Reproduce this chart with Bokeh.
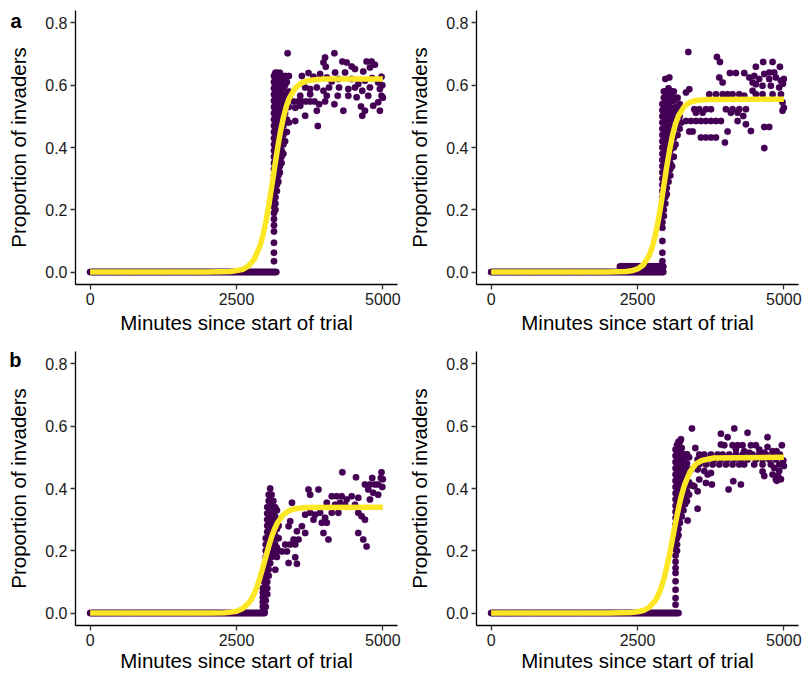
from bokeh.plotting import figure
from bokeh.models import FixedTicker, PrintfTickFormatter, Range1d, GridBox, LinearAxis
from bokeh.embed import file_html
from bokeh.resources import INLINE

FONT = "Liberation Sans"
PURPLE = "#440154"
YELLOW = "#FDE725"

X_TICKS = [0, 2500, 5000]
Y_TICKS = [0.0, 0.2, 0.4, 0.6, 0.8]
X_TITLE = "Minutes since start of trial"
Y_TITLE = "Proportion of invaders"
PANEL_LETTERS = ["a", "b"]

# ---------------- panel a, left ----------------
a1_base_end = 3190
a1_col = [
    (3140, [0.035, 0.062, 0.094, 0.13, 0.15, 0.17, 0.19, 0.21, 0.23, 0.25, 0.27, 0.29, 0.31, 0.33, 0.35, 0.37, 0.39, 0.41, 0.43, 0.45, 0.47, 0.49, 0.51, 0.53, 0.55, 0.57, 0.59, 0.61, 0.63]),
    (3165, [0.20, 0.22, 0.24, 0.26, 0.28, 0.30, 0.32, 0.34, 0.36, 0.38, 0.40, 0.42, 0.44, 0.46, 0.48, 0.50, 0.52, 0.54, 0.56, 0.58, 0.60, 0.62, 0.64]),
    (3190, [0.26, 0.28, 0.30, 0.32, 0.34, 0.36, 0.38, 0.40, 0.42, 0.44, 0.46, 0.48, 0.50, 0.52, 0.54, 0.56, 0.58, 0.60, 0.62, 0.64]),
    (3215, [0.29, 0.31, 0.33, 0.35, 0.37, 0.39, 0.41, 0.43, 0.45, 0.47, 0.49, 0.51, 0.53, 0.55, 0.57, 0.59, 0.61, 0.63]),
    (3240, [0.32, 0.34, 0.36, 0.38, 0.40, 0.42, 0.44, 0.46, 0.48, 0.50, 0.52, 0.54, 0.56, 0.58, 0.60, 0.62, 0.64]),
    (3270, [0.35, 0.37, 0.39, 0.41, 0.43, 0.45, 0.47, 0.49, 0.51, 0.53, 0.55, 0.57, 0.59, 0.61, 0.63]),
    (3300, [0.38, 0.41, 0.44, 0.47, 0.50, 0.53, 0.56, 0.59, 0.62]),
    (3330, [0.42, 0.45, 0.48, 0.51, 0.54, 0.57, 0.60, 0.63]),
    (3360, [0.45, 0.49, 0.53, 0.57, 0.61]),
    (3395, [0.48, 0.53, 0.58, 0.63]),
]
a1_pts = [
    (3373, 0.703), (4172, 0.703), (4013, 0.689), (3985, 0.673), (4025, 0.659), (4308, 0.676), (4382, 0.673),
    (4467, 0.660), (4524, 0.652), (4722, 0.676), (4807, 0.676), (4864, 0.666), (4779, 0.657), (4665, 0.644),
    (4184, 0.641), (4354, 0.641), (3617, 0.630), (3730, 0.639), (3815, 0.627), (3928, 0.636), (4042, 0.625),
    (4127, 0.612), (4240, 0.620), (4467, 0.620), (4580, 0.604), (4694, 0.614), (4818, 0.623), (4920, 0.609),
    (4977, 0.627), (3673, 0.593), (3758, 0.588), (3872, 0.593), (3985, 0.582), (4081, 0.593), (4252, 0.593),
    (4410, 0.588), (4524, 0.593), (4648, 0.582), (4779, 0.593), (4949, 0.588), (3588, 0.566), (3758, 0.571),
    (4042, 0.566), (4229, 0.566), (4410, 0.566), (4552, 0.561), (4750, 0.566), (4977, 0.566), (3475, 0.548),
    (3549, 0.548), (3617, 0.548), (3685, 0.548), (3758, 0.548), (3832, 0.548), (3911, 0.539), (4013, 0.548),
    (4172, 0.539), (3872, 0.518), (4325, 0.518), (4626, 0.532), (4694, 0.518), (4949, 0.518), (3673, 0.502),
    (4648, 0.502), (3503, 0.485), (3889, 0.469), (3503, 0.528), (3588, 0.534), (4920, 0.545), (4835, 0.534),
    (5000, 0.560), (4990, 0.600),
]
a1_curve_x = [0, 2000, 2400, 2600, 2700, 2800, 2900, 2950, 3000, 3050, 3100, 3150, 3200, 3250, 3300, 3350, 3400, 3500, 3600, 3700, 3800, 4000, 5000]
a1_curve_y = [0, 0, 0.002, 0.008, 0.019, 0.040, 0.083, 0.117, 0.160, 0.213, 0.273, 0.335, 0.396, 0.450, 0.495, 0.531, 0.558, 0.590, 0.606, 0.614, 0.617, 0.620, 0.620]

# ---------------- panel a, right ----------------
a2_base_end = 2950
a2_low_start, a2_low_end, a2_low_y = 2200, 2950, 0.018
a2_col = [
    (2925, [0.009, 0.035, 0.062, 0.10, 0.142, 0.16, 0.18, 0.20, 0.22, 0.24, 0.26, 0.28, 0.30, 0.32, 0.34, 0.36, 0.38, 0.40, 0.42, 0.44, 0.46, 0.48, 0.50, 0.52, 0.54]),
    (2950, [0.18, 0.20, 0.22, 0.24, 0.26, 0.28, 0.30, 0.32, 0.34, 0.36, 0.38, 0.40, 0.42, 0.44, 0.46, 0.48, 0.50, 0.52, 0.54, 0.56, 0.58]),
    (2975, [0.22, 0.24, 0.26, 0.28, 0.30, 0.32, 0.34, 0.36, 0.38, 0.40, 0.42, 0.44, 0.46, 0.48, 0.50, 0.52, 0.54, 0.56, 0.58, 0.62]),
    (3000, [0.25, 0.27, 0.29, 0.31, 0.33, 0.35, 0.37, 0.39, 0.41, 0.43, 0.45, 0.47, 0.49, 0.51, 0.53, 0.55, 0.57]),
    (3030, [0.29, 0.31, 0.33, 0.35, 0.37, 0.39, 0.41, 0.43, 0.45, 0.47, 0.49, 0.51, 0.53, 0.55, 0.57, 0.59]),
    (3060, [0.31, 0.33, 0.35, 0.37, 0.39, 0.41, 0.43, 0.45, 0.47, 0.49, 0.51, 0.53, 0.55, 0.57]),
    (3090, [0.34, 0.37, 0.40, 0.43, 0.46, 0.49, 0.52, 0.55, 0.58]),
    (3120, [0.37, 0.40, 0.43, 0.46, 0.49, 0.52, 0.55, 0.58]),
    (3150, [0.41, 0.44, 0.47, 0.50, 0.53, 0.56]),
    (3185, [0.44, 0.48, 0.52, 0.56]),
    (3220, [0.46, 0.50, 0.54]),
    (3250, [0.48, 0.53]),
]
a2_pts = [
    (3368, 0.707), (3857, 0.691), (3908, 0.675), (4079, 0.639), (4181, 0.639), (4323, 0.639), (4522, 0.659),
    (4647, 0.675), (4807, 0.675), (4932, 0.659), (4750, 0.641), (4835, 0.641), (4409, 0.625), (4494, 0.630),
    (4579, 0.620), (4665, 0.636), (4750, 0.620), (4864, 0.625), (4950, 0.614), (4466, 0.609), (4522, 0.603),
    (4636, 0.598), (4778, 0.598), (4920, 0.593), (3897, 0.625), (3954, 0.609), (3726, 0.571), (3840, 0.571),
    (3954, 0.571), (4039, 0.571), (4124, 0.571), (4238, 0.571), (4323, 0.566), (4466, 0.582), (4522, 0.571),
    (4636, 0.571), (4807, 0.571), (4950, 0.571), (4977, 0.545), (4977, 0.518), (3385, 0.587), (3328, 0.577),
    (3044, 0.625), (3470, 0.523), (3555, 0.523), (3669, 0.523), (3755, 0.523), (4010, 0.523), (4124, 0.523),
    (4238, 0.523), (4352, 0.523), (3498, 0.512), (3612, 0.512), (4095, 0.512), (4210, 0.512), (4306, 0.501),
    (3328, 0.485), (3413, 0.485), (3498, 0.485), (3583, 0.485), (3669, 0.485), (3755, 0.485), (3840, 0.485),
    (3925, 0.485), (4210, 0.485), (4352, 0.475), (4437, 0.453), (4665, 0.466), (4750, 0.466), (3385, 0.451),
    (3442, 0.451), (4039, 0.451), (3583, 0.432), (3669, 0.432), (3755, 0.432), (3840, 0.432), (3993, 0.416),
    (4665, 0.398), (5000, 0.620), (4985, 0.605), (5000, 0.528),
]
a2_curve_x = [0, 2000, 2300, 2400, 2500, 2600, 2700, 2750, 2800, 2850, 2900, 2950, 3000, 3050, 3100, 3150, 3200, 3300, 3400, 3500, 3700, 5000]
a2_curve_y = [0, 0, 0.002, 0.004, 0.010, 0.023, 0.053, 0.079, 0.114, 0.160, 0.216, 0.278, 0.339, 0.394, 0.441, 0.476, 0.502, 0.532, 0.546, 0.551, 0.554, 0.555]

# ---------------- panel b, left ----------------
b1_base_end = 2990
b1_col = [
    (2950, [0.005, 0.02, 0.035, 0.05, 0.065, 0.08]),
    (2975, [0.005, 0.02, 0.04, 0.06, 0.08, 0.10, 0.12, 0.14]),
    (3000, [0.02, 0.04, 0.06, 0.08, 0.10, 0.12, 0.14, 0.16, 0.18, 0.20, 0.22, 0.24]),
    (3025, [0.06, 0.08, 0.10, 0.12, 0.14, 0.16, 0.18, 0.20, 0.22, 0.24, 0.26, 0.28, 0.30, 0.32, 0.34]),
    (3050, [0.12, 0.14, 0.16, 0.18, 0.20, 0.22, 0.24, 0.26, 0.28, 0.30, 0.32, 0.34, 0.36, 0.38]),
    (3075, [0.16, 0.18, 0.20, 0.22, 0.24, 0.26, 0.28, 0.30, 0.32, 0.34, 0.36, 0.38, 0.40]),
    (3100, [0.18, 0.20, 0.22, 0.24, 0.26, 0.28, 0.30, 0.32, 0.34, 0.36, 0.38]),
    (3130, [0.20, 0.22, 0.24, 0.26, 0.28, 0.30, 0.32, 0.34, 0.36]),
    (3160, [0.19, 0.22, 0.25, 0.28, 0.31, 0.34]),
    (3190, [0.18, 0.21, 0.24, 0.27, 0.30, 0.33]),
    (3220, [0.20, 0.24, 0.28]),
]
b1_pts = [
    (4308, 0.452), (4541, 0.436), (4818, 0.434), (4977, 0.452), (4966, 0.434), (4694, 0.413), (4779, 0.413),
    (4864, 0.413), (4920, 0.413), (4750, 0.397), (4835, 0.386), (4920, 0.380), (3730, 0.397), (3900, 0.397),
    (3758, 0.380), (4127, 0.375), (4212, 0.375), (4297, 0.375), (4382, 0.365), (4467, 0.375), (4580, 0.370),
    (4779, 0.365), (4042, 0.354), (4183, 0.348), (4268, 0.354), (4354, 0.348), (3447, 0.354), (4524, 0.348),
    (4580, 0.322), (4637, 0.311), (4694, 0.300), (3673, 0.316), (3758, 0.322), (3843, 0.316), (3928, 0.322),
    (4013, 0.306), (4127, 0.322), (4240, 0.322), (3815, 0.300), (3957, 0.290), (4042, 0.290), (3418, 0.295),
    (3390, 0.279), (3617, 0.279), (3532, 0.263), (3673, 0.257), (4580, 0.257), (4665, 0.236), (4722, 0.214),
    (3985, 0.257), (4070, 0.236), (3475, 0.236), (3560, 0.236), (3333, 0.220), (3418, 0.220), (3503, 0.220),
    (3277, 0.198), (3362, 0.198), (3503, 0.179), (3390, 0.161), (3532, 0.158), (3163, 0.139), (5000, 0.430),
    (4990, 0.405),
]
b1_curve_x = [0, 2000, 2300, 2400, 2500, 2600, 2700, 2750, 2800, 2850, 2900, 2950, 3000, 3050, 3100, 3150, 3200, 3300, 3400, 3500, 3700, 5000]
b1_curve_y = [0, 0, 0.001, 0.003, 0.006, 0.014, 0.030, 0.043, 0.061, 0.084, 0.113, 0.146, 0.180, 0.214, 0.245, 0.270, 0.290, 0.316, 0.329, 0.335, 0.339, 0.340]

# ---------------- panel b, right ----------------
b2_base_end = 3210
b2_col = [
    (3150, [0.027, 0.048, 0.075, 0.102, 0.129, 0.145, 0.165, 0.185, 0.205, 0.225, 0.245, 0.265, 0.285, 0.305, 0.325, 0.345, 0.365, 0.385, 0.405, 0.425, 0.445, 0.465, 0.485, 0.505, 0.525]),
    (3175, [0.20, 0.22, 0.24, 0.26, 0.28, 0.30, 0.32, 0.34, 0.36, 0.38, 0.40, 0.42, 0.44, 0.46, 0.48, 0.50, 0.52, 0.54]),
    (3200, [0.25, 0.27, 0.29, 0.31, 0.33, 0.35, 0.37, 0.39, 0.41, 0.43, 0.45, 0.47, 0.49, 0.51, 0.53, 0.55]),
    (3225, [0.29, 0.31, 0.33, 0.35, 0.37, 0.39, 0.41, 0.43, 0.45, 0.47, 0.49, 0.51, 0.53, 0.55]),
    (3255, [0.31, 0.33, 0.35, 0.37, 0.39, 0.41, 0.43, 0.45, 0.47, 0.49, 0.51, 0.53]),
    (3285, [0.33, 0.35, 0.37, 0.39, 0.41, 0.43, 0.45, 0.47, 0.49, 0.51]),
    (3315, [0.35, 0.375, 0.40, 0.425, 0.45, 0.475, 0.50]),
    (3345, [0.36, 0.39, 0.42, 0.45, 0.48, 0.51]),
    (3380, [0.38, 0.42, 0.46, 0.50]),
    (3410, [0.41, 0.46]),
]
b2_pts = [
    (3430, 0.593), (4153, 0.593), (3925, 0.576), (4039, 0.565), (4380, 0.579), (3925, 0.541), (3982, 0.539),
    (4124, 0.539), (4210, 0.539), (4295, 0.539), (4437, 0.539), (4522, 0.539), (4721, 0.565), (4966, 0.539),
    (4721, 0.533), (4807, 0.520), (4875, 0.520), (4579, 0.525), (4665, 0.515), (4181, 0.525), (4323, 0.520),
    (4409, 0.515), (3487, 0.530), (3242, 0.558),
    (3555, 0.509), (3641, 0.509), (3755, 0.509), (3868, 0.509), (3954, 0.509), (4067, 0.509), (4181, 0.509),
    (4295, 0.509), (4466, 0.509), (4579, 0.509), (4693, 0.509), (4807, 0.509), (4932, 0.509),
    (3527, 0.493), (3612, 0.493), (3698, 0.493), (3811, 0.493), (3925, 0.493), (4039, 0.493), (4153, 0.493),
    (4266, 0.493), (4380, 0.493), (4522, 0.493), (4636, 0.493), (4750, 0.493), (4864, 0.493),
    (3555, 0.477), (3669, 0.477), (3783, 0.477), (3897, 0.477), (4010, 0.477), (4124, 0.477), (4238, 0.477),
    (4323, 0.477), (4494, 0.477), (4636, 0.477), (4778, 0.477), (4920, 0.477),
    (4835, 0.466), (4920, 0.456), (5000, 0.472), (4807, 0.445), (4864, 0.429), (4665, 0.440), (4636, 0.455),
    (3527, 0.461), (3641, 0.456), (3698, 0.445), (3755, 0.450), (3555, 0.429), (3669, 0.418), (3771, 0.413),
    (4136, 0.423), (4266, 0.413), (4056, 0.397), (3527, 0.391), (3442, 0.410), (3470, 0.407), (3527, 0.335),
    (3356, 0.297), (4900, 0.440), (4880, 0.425), (4950, 0.430), (4990, 0.490),
]
b2_curve_x = [0, 2000, 2400, 2500, 2600, 2700, 2800, 2850, 2900, 2950, 3000, 3050, 3100, 3150, 3200, 3250, 3300, 3400, 3500, 3600, 3800, 5000]
b2_curve_y = [0, 0, 0.002, 0.004, 0.008, 0.018, 0.039, 0.056, 0.079, 0.109, 0.147, 0.191, 0.240, 0.290, 0.336, 0.377, 0.410, 0.455, 0.479, 0.490, 0.498, 0.500]

SAMPLE_STEP = 20  # minutes between samples along the flat pre-invasion stretch

X_LO, X_HI = -250, 5250
Y_LO, Y_HI = -0.04, 0.84
FRAME_H = 274


def gather(base_end, cols, pts, low=None):
    xs = list(range(0, base_end + 1, SAMPLE_STEP))
    ys = [0.0] * len(xs)
    if low is not None:
        lx = list(range(low[0], low[1] + 1, SAMPLE_STEP))
        xs += lx
        ys += [low[2]] * len(lx)
    for x, yl in cols:
        xs += [x] * len(yl)
        ys += list(yl)
    for x, y in pts:
        xs.append(x)
        ys.append(y)
    return xs, ys


def make_panel(data, curve_x, curve_y, left, top, letter=None, drop=8.7):
    width = 401 if left else 402
    height = 340 if top else 334
    p = figure(
        width=width, height=height,
        x_range=Range1d(X_LO, X_HI), y_range=Range1d(Y_LO, Y_HI),
        output_backend="svg", toolbar_location=None,
        min_border_left=75, min_border_right=4 if left else 5,
        min_border_top=10 if top else 11, min_border_bottom=56 if top else 49,
        background_fill_color="white", border_fill_color="white",
    )
    p.outline_line_color = None
    p.xgrid.visible = False
    p.ygrid.visible = False

    xs, ys = data
    p.scatter(xs, ys, size=6.5, fill_color=PURPLE, line_color=PURPLE, line_width=0.3)
    p.line(curve_x, curve_y, line_color=YELLOW, line_width=5.5)

    p.xaxis.ticker = FixedTicker(ticks=X_TICKS)
    p.yaxis.ticker = FixedTicker(ticks=Y_TICKS)
    p.xaxis.formatter = PrintfTickFormatter(format="%d")
    p.yaxis.formatter = PrintfTickFormatter(format="%.1f")
    p.xaxis.axis_label = X_TITLE
    p.yaxis.axis_label = Y_TITLE
    for ax in (p.xaxis[0], p.yaxis[0]):
        ax.axis_line_color = "black"
        ax.axis_line_width = 1.3
        ax.major_tick_line_color = "#333333"
        ax.major_tick_line_width = 1.3
        ax.major_tick_out = 5
        ax.major_tick_in = 0
        ax.minor_tick_line_color = None
        ax.major_label_text_font = FONT
        ax.major_label_text_font_size = "16px"
        ax.major_label_text_color = "#1a1a1a"
        ax.major_label_standoff = 3
        ax.axis_label_text_font = FONT
        ax.axis_label_text_font_size = "20.5px"
        ax.axis_label_text_font_style = "normal"
        ax.axis_label_text_color = "black"
    p.xaxis.axis_label_standoff = 3 if top else 0
    p.yaxis.axis_label_standoff = 12

    if letter is not None:
        # panel letter: a bare outer axis with a single labelled tick near the top,
        # pulled inwards with a negative standoff so it sits left of the 0.8 label
        p.extra_y_ranges = {"letter": Range1d(Y_LO, Y_HI)}
        v = round(Y_HI - drop * (Y_HI - Y_LO) / FRAME_H, 4)
        lab = LinearAxis(y_range_name="letter", ticker=FixedTicker(ticks=[v]),
                         major_label_overrides={v: letter})
        lab.axis_line_color = None
        lab.major_tick_line_color = None
        lab.minor_tick_line_color = None
        lab.major_tick_out = 0
        lab.major_tick_in = 0
        lab.major_label_standoff = -17
        lab.major_label_text_font = FONT
        lab.major_label_text_font_size = "20px"
        lab.major_label_text_font_style = "bold"
        lab.major_label_text_color = "black"
        p.add_layout(lab, "left")
    return p


p1 = make_panel(gather(a1_base_end, a1_col, a1_pts), a1_curve_x, a1_curve_y, True, True, PANEL_LETTERS[0], 10.7)
p2 = make_panel(gather(a2_base_end, a2_col, a2_pts, (a2_low_start, a2_low_end, a2_low_y)), a2_curve_x, a2_curve_y, False, True)
p3 = make_panel(gather(b1_base_end, b1_col, b1_pts), b1_curve_x, b1_curve_y, True, False, PANEL_LETTERS[1], 8.6)
p4 = make_panel(gather(b2_base_end, b2_col, b2_pts), b2_curve_x, b2_curve_y, False, False)

grid = GridBox(children=[(p1, 0, 0), (p2, 0, 1), (p3, 1, 0), (p4, 1, 1)], spacing=0)

open("out.html", "w").write(file_html(grid, INLINE))
